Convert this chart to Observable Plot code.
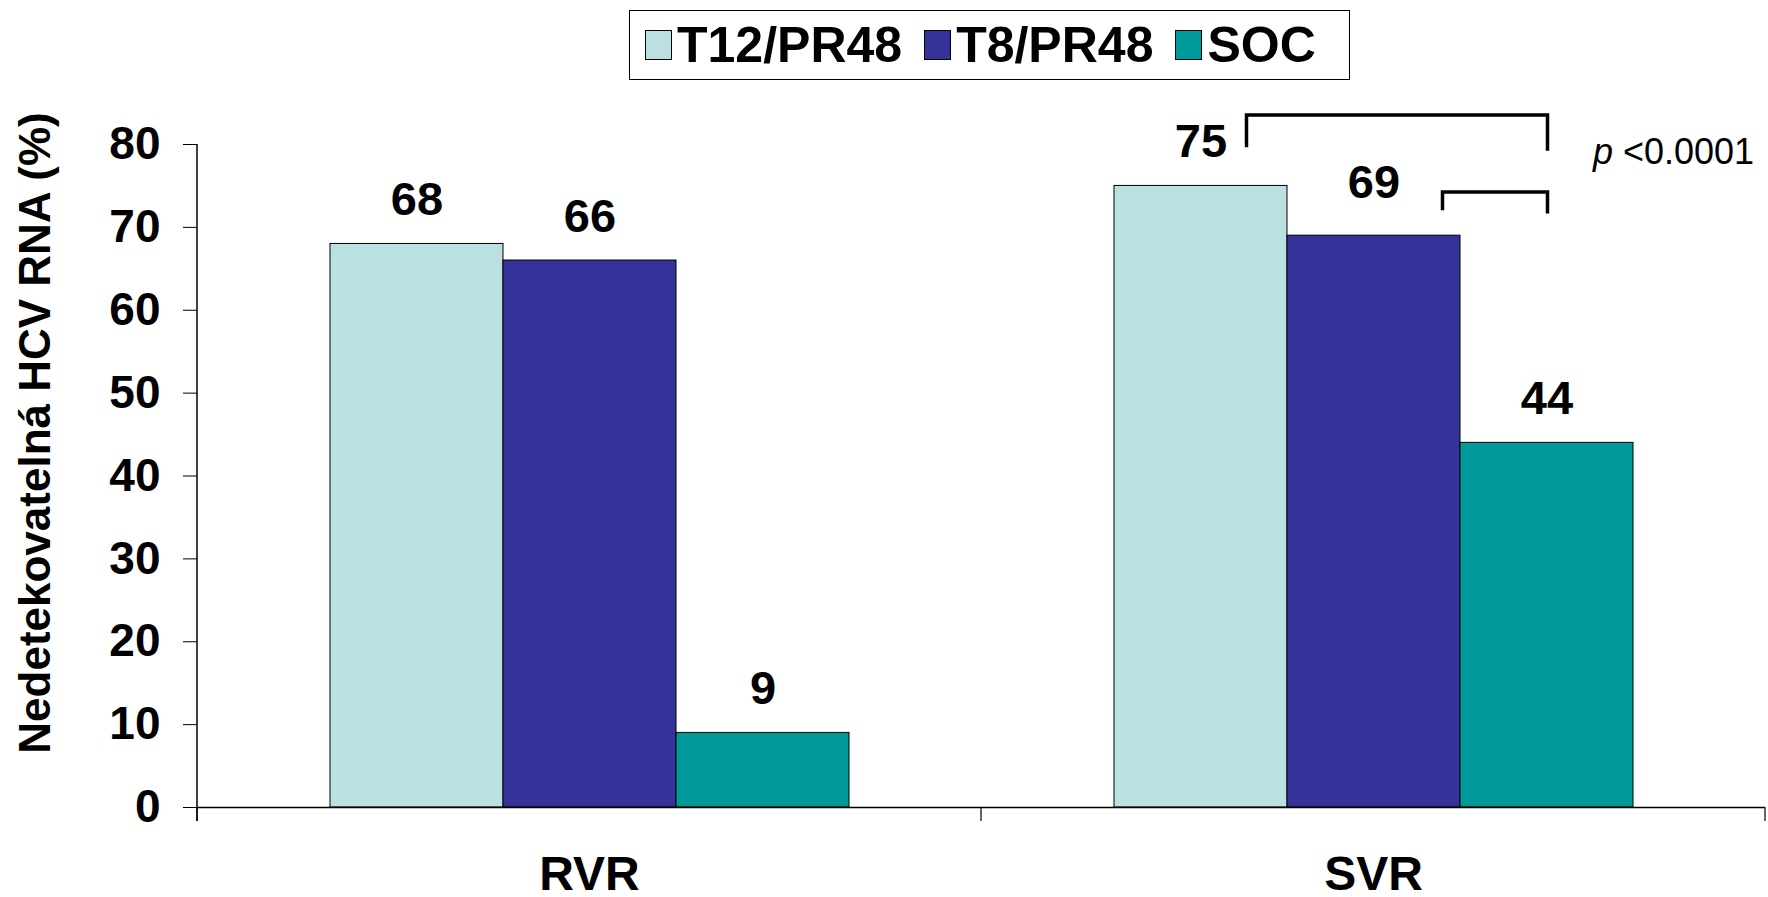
<!DOCTYPE html>
<html><head><meta charset="utf-8">
<script src="https://cdn.jsdelivr.net/npm/d3@7"></script>
<script src="https://cdn.jsdelivr.net/npm/@observablehq/plot@0.6"></script>
<style>
html,body{margin:0;padding:0;background:#fff;}
body{width:1768px;height:897px;overflow:hidden;font-family:"Liberation Sans",Arial,sans-serif;}
#legend{height:88px;position:relative;}
#legend .box{position:absolute;left:629px;top:10px;width:721px;height:70px;border:1.5px solid #000;display:flex;align-items:center;box-sizing:border-box;padding-left:15px;}
#legend .item{display:flex;align-items:center;margin-right:22px;}
#legend .sw{width:27px;height:30px;border:1px solid #000;box-sizing:border-box;margin-right:5px;}
#legend .lab{font-weight:bold;font-size:50px;line-height:1;color:#000;}
</style></head><body>
<div id="legend"><div class="box"></div></div>
<div id="chart"></div>
<script>
const groups = ["RVR", "SVR"];
const series = ["T12/PR48", "T8/PR48", "SOC"];
const colors = ["#BBE0E3", "#333399", "#009999"];
const rvrValues = [68, 66, 9];
const svrValues = [75, 69, 44];
const yTicks = [0, 10, 20, 30, 40, 50, 60, 70, 80];
const yTitle = "Nedetekovatelná HCV RNA (%)";
const pSymbol = "p";
const pValue = "<0.0001";
// significance brackets in SVR group: from series -> to series, top and leg-bottom levels (%)
const bracketFrom = ["T12/PR48", "T8/PR48"];
const bracketTo = ["SOC", "SOC"];
const bracketTop = [83.5, 74.2];
const bracketLeg = [79.6, 72.0];

const data = groups.flatMap((g, gi) => series.map((s, si) => ({
  group: g, series: s, value: (gi === 0 ? rvrValues : svrValues)[si]
})));

// legend
const box = document.querySelector("#legend .box");
series.forEach((s, i) => {
  const it = document.createElement("div"); it.className = "item";
  const sw = document.createElement("div"); sw.className = "sw"; sw.style.background = colors[i];
  const lb = document.createElement("div"); lb.className = "lab"; lb.textContent = s;
  it.append(sw, lb); box.append(it);
});

const isRaised = d => d.group === "SVR" && d.series === "T8/PR48";

const plot = Plot.plot({
  width: 1768, height: 809,
  marginLeft: 196, marginRight: 3, marginTop: 56, marginBottom: 90,
  fx: {domain: groups, padding: 0, label: null},
  x: {domain: series, paddingInner: 0, paddingOuter: 0.754, axis: null},
  y: {domain: [0, 80], label: null},
  color: {domain: series, range: colors},
  style: {fontFamily: "Liberation Sans, Arial, sans-serif", background: "white", overflow: "visible", color: "#000"},
  marks: [
    Plot.barY(data, {fx: "group", x: "series", y: "value", fill: "series", stroke: "#000", strokeWidth: 1}),
    Plot.ruleY([0], {stroke: "#000", strokeWidth: 1.5}),
    Plot.text(data.filter(d => !isRaised(d)), {fx: "group", x: "series", y: "value", text: d => String(d.value), dy: -44, fontSize: 47, fontWeight: "bold", fill: "#000"}),
    Plot.text(data.filter(isRaised), {fx: "group", x: "series", y: "value", text: d => String(d.value), dy: -53, fontSize: 47, fontWeight: "bold", fill: "#000"}),
    Plot.text([pSymbol], {fx: () => "SVR", x: () => "SOC", y: () => 79, text: d => d, dx: 46, textAnchor: "start", fontSize: 36, fontStyle: "italic", fill: "#000"}),
    Plot.text([pValue], {fx: () => "SVR", x: () => "SOC", y: () => 79, text: d => d, dx: 76, textAnchor: "start", fontSize: 36, fill: "#000"}),
    Plot.text([yTitle], {fx: () => "RVR", frameAnchor: "left", rotate: -90, textAnchor: "middle", lineAnchor: "top", dx: -179, dy: -43, fontSize: 44, fontWeight: "bold", fill: "#000", text: d => d}),
    Plot.axisY(yTicks, {tickSize: 14, tickPadding: 23, fontSize: 46, fontWeight: "bold", label: null, stroke: "#000", fill: "#000"}),
    Plot.axisFx({anchor: "bottom", tickSize: 0, tickPadding: 48, fontSize: 48, fontWeight: "bold", label: null, fill: "#000"})
  ]
});
document.getElementById("chart").append(plot);

// axis line, category boundary ticks and significance brackets, positioned through Plot's scales
const svg = d3.select(plot.tagName.toLowerCase() === "svg" ? plot : plot.querySelector("svg"));
const fx = plot.scale("fx"), x = plot.scale("x"), y = plot.scale("y");
const y0 = y.apply(0), yTop = y.apply(80);
const g = svg.append("g").attr("stroke", "#000").attr("fill", "none");
const left = fx.apply(groups[0]);
g.append("line").attr("x1", left).attr("x2", left).attr("y1", yTop).attr("y2", y0 + 14).attr("stroke-width", 1.5);
const edges = groups.map(k => fx.apply(k)).concat([fx.apply(groups[groups.length - 1]) + fx.step]);
edges.forEach(e => g.append("line").attr("x1", e).attr("x2", e).attr("y1", y0).attr("y2", y0 + 14).attr("stroke-width", 1.2));
const cx = (grp, s) => fx.apply(grp) + (x.apply(s) - x.range[0]) + x.bandwidth / 2;
const leftOffsets = [46, 69];
bracketFrom.forEach((f, i) => {
  const xl = cx("SVR", f) + leftOffsets[i];
  const xr = cx("SVR", bracketTo[i]) + 1;
  const yt = y.apply(bracketTop[i]), yb = y.apply(bracketLeg[i]), ybr = y.apply(bracketLeg[i] - 0.4);
  g.append("path").attr("d", `M${xl},${yb}V${yt}H${xr}V${ybr}`).attr("stroke-width", 3.5).attr("stroke-linejoin", "miter");
});
</script>
</body></html>
